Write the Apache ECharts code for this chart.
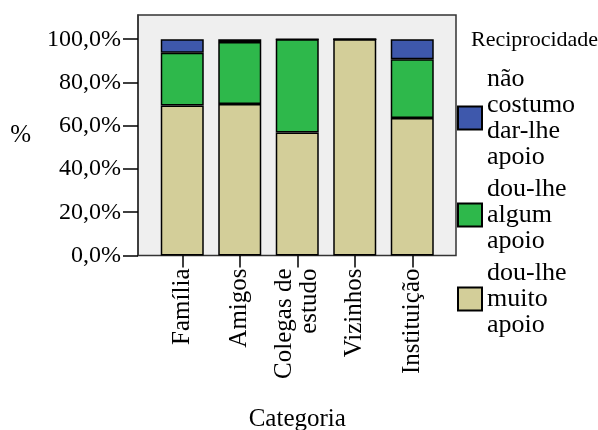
<!DOCTYPE html>
<html lang="pt">
<head>
    <meta charset="UTF-8">
    <title>Reciprocidade por categoria</title>
    <style>
        html, body { margin: 0; padding: 0; background: #ffffff; }
        #main { width: 598px; height: 430px; }
    </style>
    <script type="text/javascript" src="https://cdn.jsdelivr.net/npm/echarts@6/dist/echarts.min.js"></script>
</head>
<body>
<div id="main"></div>
<script type="text/javascript">
    // dados (percentagens por categoria)
    var categorias = ['Família', 'Amigos', 'Colegas de\nestudo', 'Vizinhos', 'Instituição'];
    var muitoApoio = [69.4, 70.0, 56.9, 100, 63.6];
    var algumApoio = [24.4, 28.7, 43.1, 0, 27.1];
    var naoCostumo = [6.2, 1.3, 0, 0, 9.3];
    var ticksY = [0, 20, 40, 60, 80, 100];
    var nomes = ['dou-lhe muito apoio', 'dou-lhe algum apoio', 'não costumo dar-lhe apoio'];
    var nomesLegenda = {
        'não costumo dar-lhe apoio': 'não\ncostumo\ndar-lhe\napoio',
        'dou-lhe algum apoio': 'dou-lhe\nalgum\napoio',
        'dou-lhe muito apoio': 'dou-lhe\nmuito\napoio'
    };
    var cores = ['#d3ce99', '#2eb84b', '#3e58ac'];

    var fonte = "'Liberation Serif', 'Times New Roman', serif";
    var yMax = 111.2;

    var chart = echarts.init(document.getElementById('main'));

    var serie = function (nome, dados, cor) {
        return {
            name: nome,
            type: 'bar',
            stack: 'total',
            xAxisIndex: 1,
            yAxisIndex: 1,
            barWidth: 43,
            data: dados,
            itemStyle: { color: cor, borderColor: '#000', borderWidth: 1.5 },
            emphasis: { disabled: true }
        };
    };

    var option = {
        animation: false,
        title: {
            text: 'Reciprocidade',
            left: 466,
            top: 24,
            textStyle: { fontFamily: fonte, fontSize: 22, fontWeight: 'normal', color: '#000' }
        },
        legend: {
            orient: 'vertical',
            left: 452,
            top: 61,
            itemWidth: 24,
            itemHeight: 23,
            itemGap: 6,
            icon: 'rect',
            data: [nomes[2], nomes[1], nomes[0]],
            formatter: function (n) { return nomesLegenda[n]; },
            textStyle: { fontFamily: fonte, fontSize: 26, lineHeight: 26, color: '#000' }
        },
        grid: [
            {   // moldura cinzenta
                left: 138, top: 15, width: 318, height: 240.5,
                outerBoundsMode: 'none',
                show: true, backgroundColor: '#efefef',
                borderColor: '#333', borderWidth: 1.5
            },
            {   // barras
                left: 153.5, top: 15, width: 287.5, height: 240.5,
                outerBoundsMode: 'none'
            }
        ],
        xAxis: [
            { type: 'category', gridIndex: 0, show: false, data: categorias },
            {
                type: 'category',
                gridIndex: 1,
                data: categorias,
                name: 'Categoria',
                nameLocation: 'middle',
                nameGap: 151,
                nameTextStyle: { fontFamily: fonte, fontSize: 25, color: '#000' },
                axisLine: { show: false },
                axisTick: { show: true, alignWithLabel: true, length: 12, lineStyle: { color: '#000', width: 1.5 } },
                axisLabel: {
                    rotate: 90, margin: 13, interval: 0,
                    fontFamily: fonte, fontSize: 25, lineHeight: 25, color: '#000'
                }
            }
        ],
        yAxis: [
            {
                type: 'value',
                gridIndex: 0,
                min: 0, max: yMax,
                name: '%',
                nameLocation: 'middle',
                nameRotate: 0,
                nameGap: 107,
                nameTextStyle: { fontFamily: fonte, fontSize: 25, color: '#000' },
                splitLine: { show: false },
                axisLine: { show: true, lineStyle: { color: '#333', width: 1.5 } },
                axisTick: { show: true, length: 15, customValues: ticksY, lineStyle: { color: '#000', width: 1.5 } },
                axisLabel: {
                    customValues: ticksY, margin: 17,
                    fontFamily: fonte, fontSize: 24, color: '#000',
                    formatter: function (v) { return v.toFixed(1).replace('.', ',') + '%'; }
                }
            },
            { type: 'value', gridIndex: 1, min: 0, max: yMax, show: false, splitLine: { show: false } }
        ],
        series: [
            serie(nomes[0], muitoApoio, cores[0]),
            serie(nomes[1], algumApoio, cores[1]),
            serie(nomes[2], naoCostumo, cores[2])
        ]
    };

    chart.setOption(option);
</script>
</body>
</html>
